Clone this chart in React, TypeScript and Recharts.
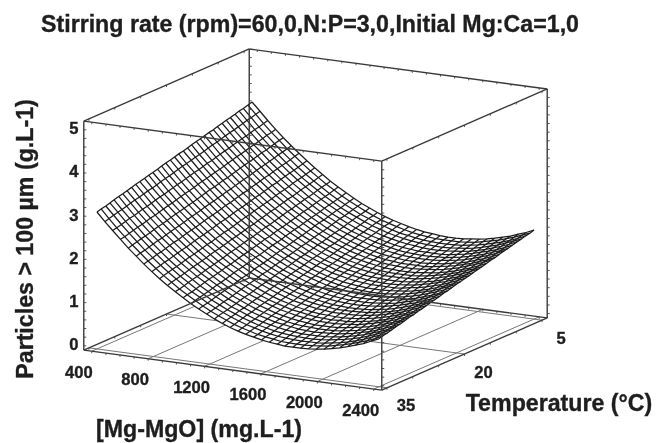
import React from "react";
import { ScatterChart, Scatter, XAxis, YAxis } from "recharts";

const title = "Stirring rate (rpm)=60,0,N:P=3,0,Initial Mg:Ca=1,0";
const mgTicks = [400, 800, 1200, 1600, 2000, 2400];
const tempTicks = [35, 20, 5];
const zTicks = [0, 1, 2, 3, 4, 5];
const mgMinor = [400,500,600,700,800,900,1000,1100,1200,1300,1400,1500,1600,1700,1800,1900,2000,2100,2200,2300,2400];
const tempMinor = [5,10,15,20,25,30,35];
const zMinor = [0,0.2,0.4,0.6,0.8,1,1.2,1.4,1.6,1.8,2,2.2,2.4,2.6,2.8,3,3.2,3.4,3.6,3.8,4,4.2,4.4,4.6,4.8,5];
const mgRange = [343, 2457];
const tempRange = [36, 4];
const zRange = [-0.1, 5.2];
const mgGrid = [400,456,511,567,622,678,733,789,844,900,956,1011,1067,1122,1178,1233,1289,1344,1400,1456,1511,1567,1622,1678,1733,1789,1844,1900,1956,2011,2067,2122,2178,2233,2289,2344,2400];
const tempGrid = [35,34.2,33.3,32.5,31.7,30.8,30,29.2,28.3,27.5,26.7,25.8,25,24.2,23.3,22.5,21.7,20.8,20,19.2,18.3,17.5,16.7,15.8,15,14.2,13.3,12.5,11.7,10.8,10,9.2,8.3,7.5,6.7,5.8,5];
const zGrid = [
[3.07,2.87,2.69,2.51,2.33,2.17,2.01,1.86,1.72,1.59,1.47,1.35,1.24,1.14,1.05,.96,.88,.81,.75,.70,.66,.62,.59,.57,.55,.55,.55,.56,.58,.60,.64,.68,.73,.79,.85,.93,1.01],
[3.10,2.90,2.71,2.53,2.36,2.20,2.04,1.89,1.75,1.62,1.49,1.38,1.27,1.17,1.07,.99,.91,.84,.78,.73,.68,.65,.62,.59,.58,.58,.58,.59,.61,.63,.67,.71,.76,.82,.88,.95,1.04],
[3.12,2.93,2.74,2.56,2.39,2.22,2.07,1.92,1.78,1.65,1.52,1.40,1.30,1.19,1.10,1.02,.94,.87,.81,.76,.71,.67,.64,.62,.61,.60,.61,.61,.63,.66,.69,.73,.78,.84,.91,.98,1.06],
[3.15,2.96,2.77,2.59,2.42,2.25,2.10,1.95,1.81,1.67,1.55,1.43,1.32,1.22,1.13,1.04,.97,.90,.84,.78,.74,.70,.67,.65,.64,.63,.63,.64,.66,.69,.72,.76,.81,.87,.94,1.01,1.09],
[3.18,2.98,2.80,2.62,2.44,2.28,2.12,1.97,1.83,1.70,1.58,1.46,1.35,1.25,1.16,1.07,1.00,.93,.86,.81,.77,.73,.70,.68,.66,.66,.66,.67,.69,.71,.75,.79,.84,.90,.96,1.03,1.12],
[3.21,3.01,2.82,2.64,2.47,2.31,2.15,2.00,1.86,1.73,1.60,1.49,1.38,1.28,1.18,1.10,1.02,.95,.89,.84,.79,.76,.73,.70,.69,.68,.69,.70,.71,.74,.77,.82,.86,.92,.99,1.06,1.14],
[3.23,3.04,2.85,2.67,2.50,2.33,2.18,2.03,1.89,1.76,1.63,1.52,1.41,1.31,1.21,1.13,1.05,.98,.92,.87,.82,.78,.75,.73,.72,.71,.71,.72,.74,.77,.80,.84,.89,.95,1.02,1.09,1.17],
[3.26,3.07,2.88,2.70,2.53,2.36,2.21,2.06,1.92,1.78,1.66,1.54,1.43,1.33,1.24,1.16,1.08,1.01,.95,.89,.85,.81,.78,.76,.74,.74,.74,.75,.77,.80,.83,.87,.92,.98,1.04,1.11,1.20],
[3.29,3.09,2.90,2.72,2.55,2.39,2.23,2.08,1.94,1.81,1.69,1.57,1.46,1.36,1.27,1.18,1.11,1.04,.98,.92,.88,.84,.81,.79,.77,.77,.77,.78,.80,.82,.86,.90,.95,1.00,1.07,1.14,1.22],
[3.32,3.12,2.93,2.75,2.58,2.42,2.26,2.11,1.97,1.84,1.71,1.60,1.49,1.39,1.30,1.21,1.13,1.06,1.00,.95,.90,.87,.84,.81,.80,.79,.80,.80,.82,.85,.88,.92,.97,1.03,1.10,1.17,1.25],
[3.34,3.15,2.96,2.78,2.61,2.44,2.29,2.14,2.00,1.87,1.74,1.63,1.52,1.42,1.32,1.24,1.16,1.09,1.03,.98,.93,.89,.86,.84,.83,.82,.82,.83,.85,.88,.91,.95,1.00,1.06,1.12,1.19,1.27],
[3.37,3.17,2.99,2.81,2.64,2.47,2.32,2.17,2.03,1.90,1.77,1.65,1.55,1.44,1.35,1.27,1.19,1.12,1.06,1.00,.96,.92,.89,.87,.85,.85,.85,.86,.88,.90,.94,.98,1.03,1.08,1.15,1.22,1.30],
[3.40,3.20,3.01,2.83,2.66,2.50,2.34,2.19,2.05,1.92,1.80,1.68,1.57,1.47,1.38,1.29,1.22,1.15,1.09,1.03,.99,.95,.92,.90,.88,.88,.88,.89,.90,.93,.96,1.00,1.05,1.11,1.18,1.25,1.33],
[3.42,3.23,3.04,2.86,2.69,2.53,2.37,2.22,2.08,1.95,1.83,1.71,1.60,1.50,1.41,1.32,1.24,1.18,1.11,1.06,1.01,.98,.95,.92,.91,.90,.90,.91,.93,.96,.99,1.03,1.08,1.14,1.20,1.27,1.35],
[3.45,3.26,3.07,2.89,2.72,2.55,2.40,2.25,2.11,1.98,1.85,1.74,1.63,1.53,1.43,1.35,1.27,1.20,1.14,1.09,1.04,1.00,.97,.95,.94,.93,.93,.94,.96,.98,1.02,1.06,1.11,1.16,1.23,1.30,1.38],
[3.48,3.28,3.10,2.92,2.74,2.58,2.43,2.28,2.14,2.01,1.88,1.76,1.66,1.55,1.46,1.38,1.30,1.23,1.17,1.11,1.07,1.03,1.00,.98,.96,.96,.96,.97,.99,1.01,1.04,1.09,1.13,1.19,1.26,1.33,1.41],
[3.51,3.31,3.12,2.94,2.77,2.61,2.45,2.31,2.16,2.03,1.91,1.79,1.68,1.58,1.49,1.40,1.33,1.26,1.20,1.14,1.10,1.06,1.03,1.01,.99,.99,.99,1.00,1.01,1.04,1.07,1.11,1.16,1.22,1.28,1.35,1.43],
[3.53,3.34,3.15,2.97,2.80,2.64,2.48,2.33,2.19,2.06,1.94,1.82,1.71,1.61,1.52,1.43,1.36,1.29,1.23,1.17,1.12,1.09,1.06,1.03,1.02,1.01,1.01,1.02,1.04,1.07,1.10,1.14,1.19,1.25,1.31,1.38,1.46],
[3.56,3.37,3.18,3.00,2.83,2.66,2.51,2.36,2.22,2.09,1.96,1.85,1.74,1.64,1.55,1.46,1.38,1.31,1.25,1.20,1.15,1.11,1.08,1.06,1.05,1.04,1.04,1.05,1.07,1.09,1.13,1.17,1.22,1.27,1.34,1.41,1.49],
[3.59,3.39,3.21,3.03,2.86,2.69,2.54,2.39,2.25,2.12,1.99,1.88,1.77,1.67,1.57,1.49,1.41,1.34,1.28,1.22,1.18,1.14,1.11,1.09,1.07,1.07,1.07,1.08,1.10,1.12,1.15,1.19,1.24,1.30,1.36,1.43,1.51],
[3.61,3.42,3.23,3.05,2.88,2.72,2.56,2.42,2.28,2.14,2.02,1.90,1.79,1.69,1.60,1.52,1.44,1.37,1.31,1.25,1.21,1.17,1.14,1.12,1.10,1.10,1.10,1.10,1.12,1.15,1.18,1.22,1.27,1.32,1.39,1.46,1.54],
[3.64,3.45,3.26,3.08,2.91,2.75,2.59,2.44,2.30,2.17,2.05,1.93,1.82,1.72,1.63,1.54,1.47,1.40,1.34,1.28,1.24,1.20,1.17,1.14,1.13,1.12,1.12,1.13,1.15,1.17,1.21,1.25,1.30,1.35,1.42,1.49,1.56],
[3.67,3.47,3.29,3.11,2.94,2.77,2.62,2.47,2.33,2.20,2.07,1.96,1.85,1.75,1.66,1.57,1.49,1.42,1.36,1.31,1.26,1.23,1.19,1.17,1.16,1.15,1.15,1.16,1.18,1.20,1.23,1.27,1.32,1.38,1.44,1.51,1.59],
[3.70,3.50,3.31,3.13,2.96,2.80,2.65,2.50,2.36,2.23,2.10,1.99,1.88,1.78,1.68,1.60,1.52,1.45,1.39,1.34,1.29,1.25,1.22,1.20,1.18,1.18,1.18,1.19,1.20,1.23,1.26,1.30,1.35,1.41,1.47,1.54,1.62],
[3.72,3.53,3.34,3.16,2.99,2.83,2.67,2.53,2.39,2.26,2.13,2.01,1.91,1.80,1.71,1.63,1.55,1.48,1.42,1.36,1.32,1.28,1.25,1.23,1.21,1.21,1.21,1.21,1.23,1.25,1.29,1.33,1.38,1.43,1.50,1.56,1.64],
[3.75,3.56,3.37,3.19,3.02,2.86,2.70,2.55,2.41,2.28,2.16,2.04,1.93,1.83,1.74,1.65,1.58,1.51,1.45,1.39,1.35,1.31,1.28,1.25,1.24,1.23,1.23,1.24,1.26,1.28,1.31,1.35,1.40,1.46,1.52,1.59,1.67],
[3.78,3.58,3.40,3.22,3.05,2.88,2.73,2.58,2.44,2.31,2.19,2.07,1.96,1.86,1.77,1.68,1.60,1.54,1.47,1.42,1.37,1.34,1.30,1.28,1.27,1.26,1.26,1.27,1.29,1.31,1.34,1.38,1.43,1.49,1.55,1.62,1.70],
[3.80,3.61,3.42,3.25,3.08,2.91,2.76,2.61,2.47,2.34,2.21,2.10,1.99,1.89,1.79,1.71,1.63,1.56,1.50,1.45,1.40,1.36,1.33,1.31,1.29,1.29,1.29,1.29,1.31,1.34,1.37,1.41,1.46,1.51,1.58,1.64,1.72],
[3.83,3.64,3.45,3.27,3.10,2.94,2.79,2.64,2.50,2.37,2.24,2.13,2.02,1.92,1.82,1.74,1.66,1.59,1.53,1.47,1.43,1.39,1.36,1.34,1.32,1.32,1.31,1.32,1.34,1.36,1.40,1.43,1.48,1.54,1.60,1.67,1.75],
[3.86,3.67,3.48,3.30,3.13,2.97,2.81,2.66,2.52,2.39,2.27,2.15,2.04,1.94,1.85,1.76,1.69,1.62,1.56,1.50,1.46,1.42,1.39,1.36,1.35,1.34,1.34,1.35,1.37,1.39,1.42,1.46,1.51,1.57,1.63,1.70,1.78],
[3.89,3.69,3.51,3.33,3.16,2.99,2.84,2.69,2.55,2.42,2.30,2.18,2.07,1.97,1.88,1.79,1.71,1.65,1.59,1.53,1.49,1.45,1.41,1.39,1.38,1.37,1.37,1.38,1.39,1.42,1.45,1.49,1.54,1.59,1.66,1.72,1.80],
[3.91,3.72,3.53,3.35,3.19,3.02,2.87,2.72,2.58,2.45,2.32,2.21,2.10,2.00,1.91,1.82,1.74,1.67,1.61,1.56,1.51,1.47,1.44,1.42,1.40,1.40,1.40,1.40,1.42,1.45,1.48,1.52,1.57,1.62,1.68,1.75,1.83],
[3.94,3.75,3.56,3.38,3.21,3.05,2.90,2.75,2.61,2.48,2.35,2.24,2.13,2.03,1.93,1.85,1.77,1.70,1.64,1.58,1.54,1.50,1.47,1.45,1.43,1.42,1.42,1.43,1.45,1.47,1.50,1.54,1.59,1.65,1.71,1.78,1.86],
[3.97,3.78,3.59,3.41,3.24,3.08,2.92,2.77,2.63,2.50,2.38,2.26,2.15,2.05,1.96,1.88,1.80,1.73,1.67,1.61,1.57,1.53,1.50,1.48,1.46,1.45,1.45,1.46,1.48,1.50,1.53,1.57,1.62,1.67,1.74,1.81,1.88],
[3.99,3.80,3.61,3.44,3.27,3.10,2.95,2.80,2.66,2.53,2.41,2.29,2.18,2.08,1.99,1.90,1.83,1.76,1.70,1.64,1.59,1.56,1.53,1.50,1.49,1.48,1.48,1.49,1.50,1.53,1.56,1.60,1.65,1.70,1.76,1.83,1.91],
[4.02,3.83,3.64,3.46,3.30,3.13,2.98,2.83,2.69,2.56,2.43,2.32,2.21,2.11,2.02,1.93,1.85,1.78,1.72,1.67,1.62,1.58,1.55,1.53,1.51,1.51,1.51,1.51,1.53,1.55,1.59,1.63,1.67,1.73,1.79,1.86,1.93],
[4.05,3.86,3.67,3.49,3.32,3.16,3.01,2.86,2.72,2.59,2.46,2.35,2.24,2.14,2.04,1.96,1.88,1.81,1.75,1.70,1.65,1.61,1.58,1.56,1.54,1.53,1.53,1.54,1.56,1.58,1.61,1.65,1.70,1.75,1.82,1.88,1.96],
];

const project = (mg: number, temp: number, z: number) => {
  const u = 0.027 + (0.946 * (mg - 400)) / 2000;
  const t = 0.03 + (0.94 * (35 - temp)) / 30;
  return { x: 84 + 298 * u + 165 * t, y: 345.7 + 40 * u - 72 * t - 43.2 * z };
};

const FONT = "'Liberation Sans', Arial, sans-serif";
const INK = "#1e1e1e";
const heavy = { stroke: INK, strokeWidth: 0.35 };
const noShape = () => <g />;
const label = (dx: number, dy: number, size = 16.6) => (p: any) => (
  <text x={p.cx + dx} y={p.cy + dy} textAnchor="middle" dominantBaseline="central" fontFamily={FONT} fontWeight="bold" fontSize={size} fill={INK} {...heavy}>
    {p.payload.label}
  </text>
);
const tick = (dx: number, dy: number, w: number) => (p: any) => (
  <line x1={p.cx} y1={p.cy} x2={p.cx + dx} y2={p.cy + dy} stroke="#444" strokeWidth={w} />
);

const [mL, mH] = mgRange;
const [tL, tH] = tempRange;
const [zL, zH] = zRange;
const boxEdges = [
  [project(mL, tL, zL), project(mH, tL, zL)],
  [project(mH, tL, zL), project(mH, tH, zL)],
  [project(mH, tH, zL), project(mL, tH, zL)],
  [project(mL, tH, zL), project(mL, tL, zL)],
  [project(mL, tL, zH), project(mH, tL, zH)],
  [project(mH, tL, zH), project(mH, tH, zH)],
  [project(mH, tH, zH), project(mL, tH, zH)],
  [project(mL, tH, zH), project(mL, tL, zH)],
  [project(mL, tL, zL), project(mL, tL, zH)],
  [project(mH, tL, zL), project(mH, tL, zH)],
  [project(mH, tH, zL), project(mH, tH, zH)],
  [project(mL, tH, zL), project(mL, tH, zH)],
];
const floorLines = [
  ...mgTicks.map((m) => [project(m, tL, zL), project(m, tH, zL)]),
  ...tempTicks.map((c) => [project(mL, c, zL), project(mH, c, zL)]),
];
const meshRows = tempGrid.map((c, j) => mgGrid.map((m, i) => project(m, c, zGrid[j][i])));
const meshCols = mgGrid.map((m, i) => tempGrid.map((c, j) => project(m, c, zGrid[j][i])));
const outline = [
  ...meshRows[0],
  ...meshCols[mgGrid.length - 1],
  ...[...meshRows[tempGrid.length - 1]].reverse(),
  ...[...meshCols[0]].reverse(),
];
const zTickMarks = zMinor.flatMap((z) => [project(mL, tL, 0), project(mH, tL, 0), project(mH, tH, 0), project(mL, tH, 0)].map((b) => ({ x: b.x, y: b.y - 43.2 * z })));
const mgTickMarks = mgMinor.flatMap((m) => [project(m, tL, zL), project(m, tH, zL), project(m, tL, zH), project(m, tH, zH)]);
const tempTickMarks = tempMinor.flatMap((c) => [project(mL, c, zL), project(mH, c, zL), project(mL, c, zH), project(mH, c, zH)]);
const zLabels = zTicks.map((z) => ({ ...project(mL, tL, z), label: String(z) }));
const mgLabels = mgTicks.map((m) => ({ ...project(m, tL, zL), label: String(m) }));
const tempLabels = tempTicks.map((c) => ({ ...project(mH, c, zL), label: String(c) }));

export default function App() {
  const lineSeries = (pts: any[], key: string, stroke: string, w: number) => (
    <Scatter key={key} data={pts} line={{ stroke, strokeWidth: w }} lineType="joint" shape={noShape} isAnimationActive={false} />
  );
  return (
    <div style={{ position: "absolute", left: 0, top: 0, width: 656, height: 443, background: "#fff", filter: "blur(0.35px)" }}>
      <ScatterChart width={656} height={443} margin={{ top: 0, right: 0, bottom: 0, left: 0 }}>
        <XAxis type="number" dataKey="x" domain={[0, 656]} hide />
        <YAxis type="number" dataKey="y" domain={[0, 443]} reversed hide />
        {floorLines.map((l, i) => lineSeries(l, `f${i}`, "#777", 1))}
        <Scatter data={outline} line={{ fill: "#fff", stroke: "none" }} lineType="joint" shape={noShape} isAnimationActive={false} />
        {meshRows.map((l, i) => lineSeries(l, `r${i}`, "#1c1c1c", 1.25))}
        {meshCols.map((l, i) => lineSeries(l, `c${i}`, "#1c1c1c", 1.25))}
        {boxEdges.map((l, i) => lineSeries(l, `b${i}`, "#3a3a3a", 1.4))}
        <Scatter data={zTickMarks} shape={tick(2.5, 0, 0.9)} isAnimationActive={false} />
        <Scatter data={mgTickMarks} shape={tick(0, 2, 0.9)} isAnimationActive={false} />
        <Scatter data={tempTickMarks} shape={tick(0, 2, 0.9)} isAnimationActive={false} />
        <Scatter data={zLabels} shape={label(-10, -1)} isAnimationActive={false} />
        <Scatter data={mgLabels} shape={label(-13, 21)} isAnimationActive={false} />
        <Scatter data={tempLabels} shape={label(19, 18)} isAnimationActive={false} />
        <text x={41} y={32} fontFamily={FONT} fontWeight="bold" fontSize={23.2} fill={INK} {...heavy}>{title}</text>
        <text x={0} y={0} transform="translate(33,239) rotate(-90)" textAnchor="middle" fontFamily={FONT} fontWeight="bold" fontSize={23.2} fill={INK} {...heavy}>{"Particles > 100 µm (g.L-1)"}</text>
        <text x={199} y={437} textAnchor="middle" fontFamily={FONT} fontWeight="bold" fontSize={23.2} fill={INK} {...heavy}>{"[Mg-MgO] (mg.L-1)"}</text>
        <text x={559} y={411} textAnchor="middle" fontFamily={FONT} fontWeight="bold" fontSize={23.2} fill={INK} {...heavy}>{"Temperature (°C)"}</text>
      </ScatterChart>
    </div>
  );
}
